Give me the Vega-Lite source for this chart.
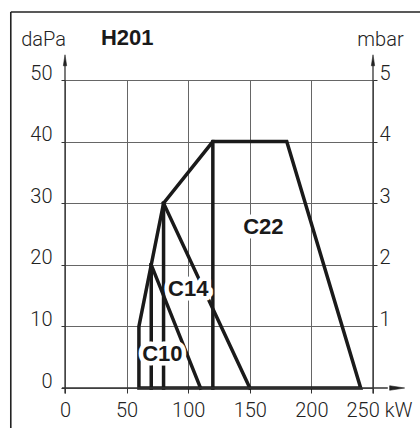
{
  "$schema": "https://vega.github.io/schema/vega-lite/v6.json",
  "width": 308,
  "height": 308,
  "autosize": {"type": "none"},
  "padding": {"left": 65, "top": 80, "right": 47, "bottom": 40},
  "background": "white",
  "config": {"view": {"stroke": null}},
  "datasets": {
    "curves": [
      {"seg": "outer", "i": 0, "kw": 60, "p": 0},
      {"seg": "outer", "i": 1, "kw": 60, "p": 10},
      {"seg": "outer", "i": 2, "kw": 80, "p": 30},
      {"seg": "outer", "i": 3, "kw": 120, "p": 40},
      {"seg": "outer", "i": 4, "kw": 180, "p": 40},
      {"seg": "outer", "i": 5, "kw": 240, "p": 0},
      {"seg": "outer", "i": 6, "kw": 60, "p": 0},
      {"seg": "c10", "i": 0, "kw": 70, "p": 20},
      {"seg": "c10", "i": 1, "kw": 110, "p": 0},
      {"seg": "c14", "i": 0, "kw": 80, "p": 30},
      {"seg": "c14", "i": 1, "kw": 150, "p": 0},
      {"seg": "v70", "i": 0, "kw": 70, "p": 0},
      {"seg": "v70", "i": 1, "kw": 70, "p": 20},
      {"seg": "v80", "i": 0, "kw": 80, "p": 0},
      {"seg": "v80", "i": 1, "kw": 80, "p": 30},
      {"seg": "v120", "i": 0, "kw": 120, "p": 0},
      {"seg": "v120", "i": 1, "kw": 120, "p": 40}
    ],
    "labels": [
      {"name": "C10", "kw": 79, "p": 5.5},
      {"name": "C14", "kw": 100, "p": 16},
      {"name": "C22", "kw": 161, "p": 26.2}
    ]
  },
  "resolve": {"axis": {"y": "independent"}},
  "layer": [
    {
      "data": {"name": "curves"},
      "mark": {"type": "line", "color": "#1a1a1a", "strokeWidth": 3.5, "strokeJoin": "miter", "strokeCap": "square"},
      "encoding": {
        "x": {
          "field": "kw", "type": "quantitative",
          "scale": {"domain": [0, 250], "nice": false, "zero": false},
          "axis": {
            "values": [0, 50, 100, 150, 200, 250],
            "grid": true, "gridColor": "#666", "gridWidth": 1,
            "domain": false, "ticks": true, "tickSize": 5, "tickColor": "#333", "tickWidth": 1,
            "labelFont": "Roboto", "labelFontWeight": 300, "labelFontSize": 20, "labelColor": "#222",
            "labelPadding": 7, "labelBaseline": "top", "labelFlush": false, "labelOverlap": false,
            "labelExpr": "datum.value == 250 ? '250 kW' : datum.label",
            "labelAlign": {"condition": {"test": "datum.value == 250", "value": "left"}, "value": "center"},
            "labelOffset": {"condition": {"test": "datum.value == 250", "value": -27}, "value": 0},
            "title": null
          }
        },
        "y": {
          "field": "p", "type": "quantitative",
          "scale": {"domain": [0, 50], "nice": false, "zero": false},
          "axis": {
            "values": [0, 10, 20, 30, 40, 50],
            "grid": true, "gridColor": "#666", "gridWidth": 1,
            "domain": false, "tickSize": 4, "tickColor": "#333", "tickWidth": 1,
            "labelFont": "Roboto", "labelFontWeight": 300, "labelFontSize": 20, "labelColor": "#222",
            "labelPadding": 9, "labelBaseline": "alphabetic", "labelOffset": -1, "labelFlush": false, "labelOverlap": false,
            "title": "daPa", "titleAngle": 0, "titleX": -22, "titleY": -35, "titleAlign": "center", "titleBaseline": "alphabetic",
            "titleFont": "Roboto", "titleFontWeight": 300, "titleFontSize": 20, "titleColor": "#222"
          }
        },
        "detail": {"field": "seg"},
        "order": {"field": "i"}
      }
    },
    {
      "data": {"values": [{"x1": -44, "x2": 300, "y1": 61.05}]},
      "mark": {"type": "rule", "color": "#222", "strokeWidth": 1.6},
      "encoding": {
        "x": {"field": "x1", "type": "quantitative", "scale": {"domain": [0, 250]}, "axis": {"title": null}},
        "x2": {"field": "x2"},
        "y": {"field": "y1", "type": "quantitative", "scale": {"domain": [0, 50]}, "axis": null}
      }
    },
    {
      "data": {"values": [{"x1": -44, "y1": -10, "y2": 61.05}]},
      "mark": {"type": "rule", "color": "#222", "strokeWidth": 1.6},
      "encoding": {
        "x": {"field": "x1", "type": "quantitative", "scale": {"domain": [0, 250]}, "axis": {"title": null}},
        "y": {"field": "y1", "type": "quantitative", "scale": {"domain": [0, 50]}, "axis": null},
        "y2": {"field": "y2"}
      }
    },
    {
      "data": {"values": [{"kw0": -2.5, "kw1": 262, "p": 0}]},
      "mark": {"type": "rule", "color": "#333", "strokeWidth": 1.3},
      "encoding": {
        "x": {"field": "kw0", "type": "quantitative", "scale": {"domain": [0, 250]}, "axis": {"title": null}},
        "x2": {"field": "kw1"},
        "y": {"field": "p", "type": "quantitative", "scale": {"domain": [0, 50]}, "axis": null}
      }
    },
    {
      "data": {"values": [{"kw": 0, "p0": -0.9, "p1": 53}, {"kw": 250, "p0": -0.9, "p1": 53}]},
      "mark": {"type": "rule", "color": "#333", "strokeWidth": 1.3},
      "encoding": {
        "x": {"field": "kw", "type": "quantitative", "scale": {"domain": [0, 250]}, "axis": {"title": null}},
        "y": {"field": "p0", "type": "quantitative", "scale": {"domain": [0, 50]}, "axis": null},
        "y2": {"field": "p1"}
      }
    },
    {
      "data": {"values": [{"kw": 0, "p": 53.2}, {"kw": 250, "p": 53.2}]},
      "mark": {"type": "point", "filled": true, "fill": "#222", "stroke": "#222", "strokeWidth": 0.6, "opacity": 1, "shape": "M0,-1L0.3,1L-0.3,1Z", "size": 121},
      "encoding": {
        "x": {"field": "kw", "type": "quantitative", "scale": {"domain": [0, 250]}, "axis": {"title": null}},
        "y": {"field": "p", "type": "quantitative", "scale": {"domain": [0, 50]}, "axis": null}
      }
    },
    {
      "data": {"values": [{"kw": 269.6, "p": 0}]},
      "mark": {"type": "point", "filled": true, "fill": "#222", "stroke": "#222", "strokeWidth": 0.6, "opacity": 1, "shape": "M1,0L-1,-0.3L-1,0.3Z", "size": 225},
      "encoding": {
        "x": {"field": "kw", "type": "quantitative", "scale": {"domain": [0, 250]}, "axis": {"title": null}},
        "y": {"field": "p", "type": "quantitative", "scale": {"domain": [0, 50]}, "axis": null}
      }
    },
    {
      "data": {"name": "labels"},
      "mark": {"type": "text", "font": "Liberation Sans", "fontWeight": "bold", "fontSize": 22, "align": "center", "baseline": "middle", "stroke": "white", "strokeWidth": 9, "strokeJoin": "round", "fill": "white"},
      "encoding": {
        "x": {"field": "kw", "type": "quantitative", "scale": {"domain": [0, 250]}, "axis": {"title": null}},
        "y": {"field": "p", "type": "quantitative", "scale": {"domain": [0, 50]}, "axis": null},
        "text": {"field": "name"}
      }
    },
    {
      "data": {"name": "labels"},
      "mark": {"type": "text", "font": "Liberation Sans", "fontWeight": "bold", "fontSize": 22, "align": "center", "baseline": "middle", "color": "#1a1a1a"},
      "encoding": {
        "x": {"field": "kw", "type": "quantitative", "scale": {"domain": [0, 250]}, "axis": {"title": null}},
        "y": {
          "field": "p", "type": "quantitative",
          "scale": {"domain": [0, 50]},
          "axis": {
            "orient": "right",
            "values": [10, 20, 30, 40, 50],
            "grid": false, "domain": false, "tickSize": 4, "tickColor": "#333", "tickWidth": 1,
            "labelExpr": "format(datum.value / 10, 'd')",
            "labelFont": "Roboto", "labelFontWeight": 300, "labelFontSize": 20, "labelColor": "#222",
            "labelPadding": 2, "labelBaseline": "alphabetic", "labelOffset": -1, "labelFlush": false, "labelOverlap": false,
            "title": "mbar", "titleAngle": 0, "titleX": 7, "titleY": -35, "titleAlign": "center", "titleBaseline": "alphabetic",
            "titleFont": "Roboto", "titleFontWeight": 300, "titleFontSize": 20, "titleColor": "#222"
          }
        },
        "text": {"field": "name"}
      }
    },
    {
      "data": {"values": [{"t": "H201", "kw": 50.5, "p": 55.7}]},
      "mark": {"type": "text", "font": "Liberation Sans", "fontWeight": "bold", "fontSize": 22, "align": "center", "baseline": "alphabetic", "color": "#1a1a1a"},
      "encoding": {
        "x": {"field": "kw", "type": "quantitative", "scale": {"domain": [0, 250]}, "axis": {"title": null}},
        "y": {"field": "p", "type": "quantitative", "scale": {"domain": [0, 50]}, "axis": null},
        "text": {"field": "t"}
      }
    }
  ]
}
